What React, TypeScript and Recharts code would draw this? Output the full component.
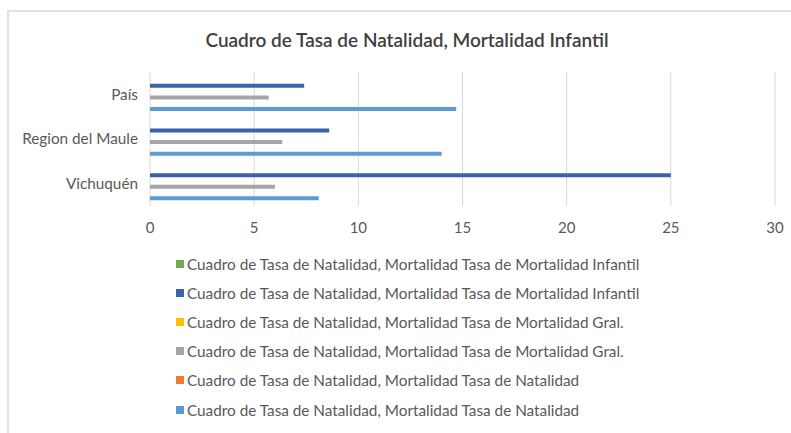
import React from "react";
import { BarChart, Bar, XAxis, YAxis, CartesianGrid } from "recharts";

const categories = ["País", "Region del Maule", "Vichuquén"];
const infantilEmpty: (number | null)[] = [null, null, null];
const infantil = [7.4, 8.6, 25];
const gralEmpty: (number | null)[] = [null, null, null];
const gral = [5.7, 6.35, 6.0];
const natalidadEmpty: (number | null)[] = [null, null, null];
const natalidad = [14.7, 14.0, 8.1];
const xTicks = [0, 5, 10, 15, 20, 25, 30];

const seriesNames = [
  "Cuadro de Tasa de Natalidad, Mortalidad Tasa de Mortalidad Infantil",
  "Cuadro de Tasa de Natalidad, Mortalidad Tasa de Mortalidad Infantil",
  "Cuadro de Tasa de Natalidad, Mortalidad Tasa de Mortalidad Gral.",
  "Cuadro de Tasa de Natalidad, Mortalidad Tasa de Mortalidad Gral.",
  "Cuadro de Tasa de Natalidad, Mortalidad Tasa de Natalidad",
  "Cuadro de Tasa de Natalidad, Mortalidad Tasa de Natalidad",
];
const seriesKeys = ["s0", "s1", "s2", "s3", "s4", "s5"];
const seriesColors = ["#70AD47", "#3E61AC", "#FFC000", "#A5A5A5", "#ED7D31", "#5B9BD5"];

const seriesValues = [infantilEmpty, infantil, gralEmpty, gral, natalidadEmpty, natalidad];

const data = categories.map((c, i) => {
  const row: Record<string, any> = { name: c };
  seriesKeys.forEach((k, j) => {
    row[k] = seriesValues[j][i];
  });
  return row;
});

const FONT = "Lato, 'Open Sans', sans-serif";
const TEXT = "#595959";

export default function App() {
  return (
    <div
      style={{
        position: "fixed",
        left: 7,
        top: 10,
        width: 782,
        height: 421,
        borderTop: "2px solid #e2e2e2",
        borderLeft: "2px solid #e2e2e2",
        background: "#fff",
        fontFamily: FONT,
      }}
    >
      <div
        style={{
          position: "absolute",
          left: -2,
          top: 17,
          width: 800,
          textAlign: "center",
          fontSize: 19,
          fontWeight: 600,
          color: "#404040",
          lineHeight: "22px",
        }}
      >
        Cuadro de Tasa de Natalidad, Mortalidad Infantil
      </div>
      <div style={{ position: "absolute", left: 0, top: 0 }}>
        <BarChart
          width={782}
          height={421}
          data={data}
          layout="vertical"
          margin={{ top: 60, right: 16, bottom: 197, left: 0 }}
          barSize={4}
          barGap={1.8}
          barCategoryGap={5}
        >
          <CartesianGrid horizontal={false} vertical={true} stroke="#d9d9d9" strokeWidth={1} />
          <XAxis
            type="number"
            domain={[0, 30]}
            ticks={xTicks}
            axisLine={false}
            tickLine={false}
            tickSize={0}
            tickMargin={16}
            height={30}
            tick={{ fill: TEXT, fontSize: 15, fontFamily: FONT }}
          />
          <YAxis
            type="category"
            dataKey="name"
            width={141}
            axisLine={false}
            tickLine={false}
            tickSize={0}
            tickMargin={12}
            tick={{ fill: TEXT, fontSize: 15.3, fontFamily: FONT }}
          />
          {seriesKeys.map((k, j) => (
            <Bar key={k} dataKey={k} name={seriesNames[j]} fill={seriesColors[j]} isAnimationActive={false} />
          ))}
        </BarChart>
      </div>
      <div style={{ position: "absolute", left: 167, top: 237 }}>
        {seriesNames.map((n, j) => (
          <div
            key={j}
            style={{
              height: 29.2,
              display: "flex",
              alignItems: "center",
              fontSize: 15.3,
              color: TEXT,
              whiteSpace: "nowrap",
            }}
          >
            <span
              style={{
                display: "inline-block",
                width: 8,
                height: 8,
                background: seriesColors[j],
                marginRight: 3,
              }}
            />
            {n}
          </div>
        ))}
      </div>
    </div>
  );
}
